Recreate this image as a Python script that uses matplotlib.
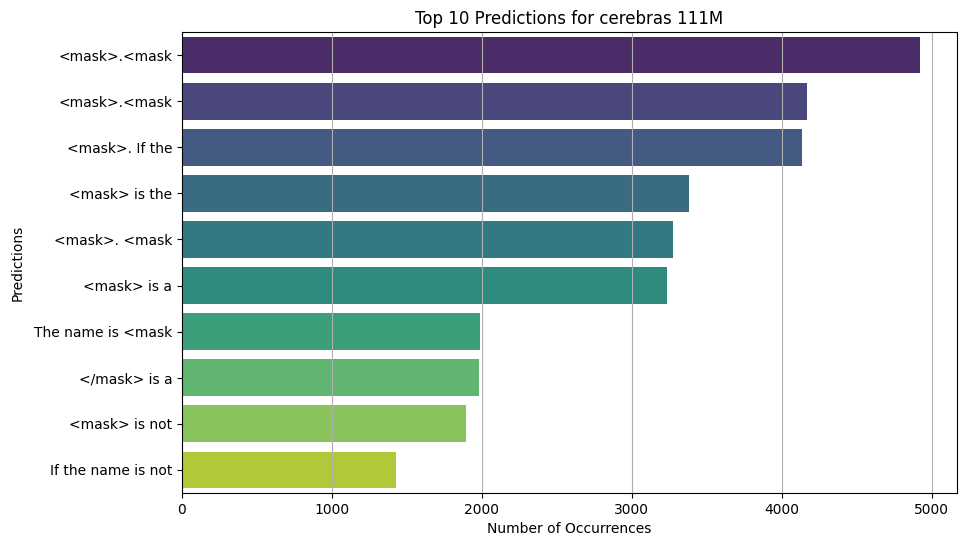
import matplotlib
matplotlib.use("Agg")
import matplotlib.pyplot as plt
import seaborn as sns
import pandas as pd

predictions = [
    "<mask>.<mask",
    "<mask>.<mask ",
    "<mask>. If the",
    "<mask> is the",
    "<mask>. <mask",
    "<mask> is a",
    "The name is <mask",
    "</mask> is a",
    "<mask> is not",
    "If the name is not",
]
occurrences = [4920, 4172, 4139, 3385, 3278, 3238, 1989, 1983, 1896, 1429]

df = pd.DataFrame({"Prediction": predictions, "Count": occurrences})

fig = plt.figure(figsize=(9.66, 5.47), dpi=100)
ax = fig.add_axes([182 / 966, 1 - 493 / 547, 775 / 966, 461 / 547])
sns.barplot(data=df, x="Count", y="Prediction", hue="Prediction",
            palette="viridis", legend=False, ax=ax)
ax.set_yticks(range(len(predictions)))
ax.set_yticklabels([p.strip() for p in predictions])
ax.set_title("Top 10 Predictions for cerebras 111M")
ax.set_xlabel("Number of Occurrences")
ax.set_ylabel("Predictions", labelpad=7)
ax.grid(axis="x")
ax.set_xlim(0, 5170)
fig.savefig("out.png", dpi=100)
